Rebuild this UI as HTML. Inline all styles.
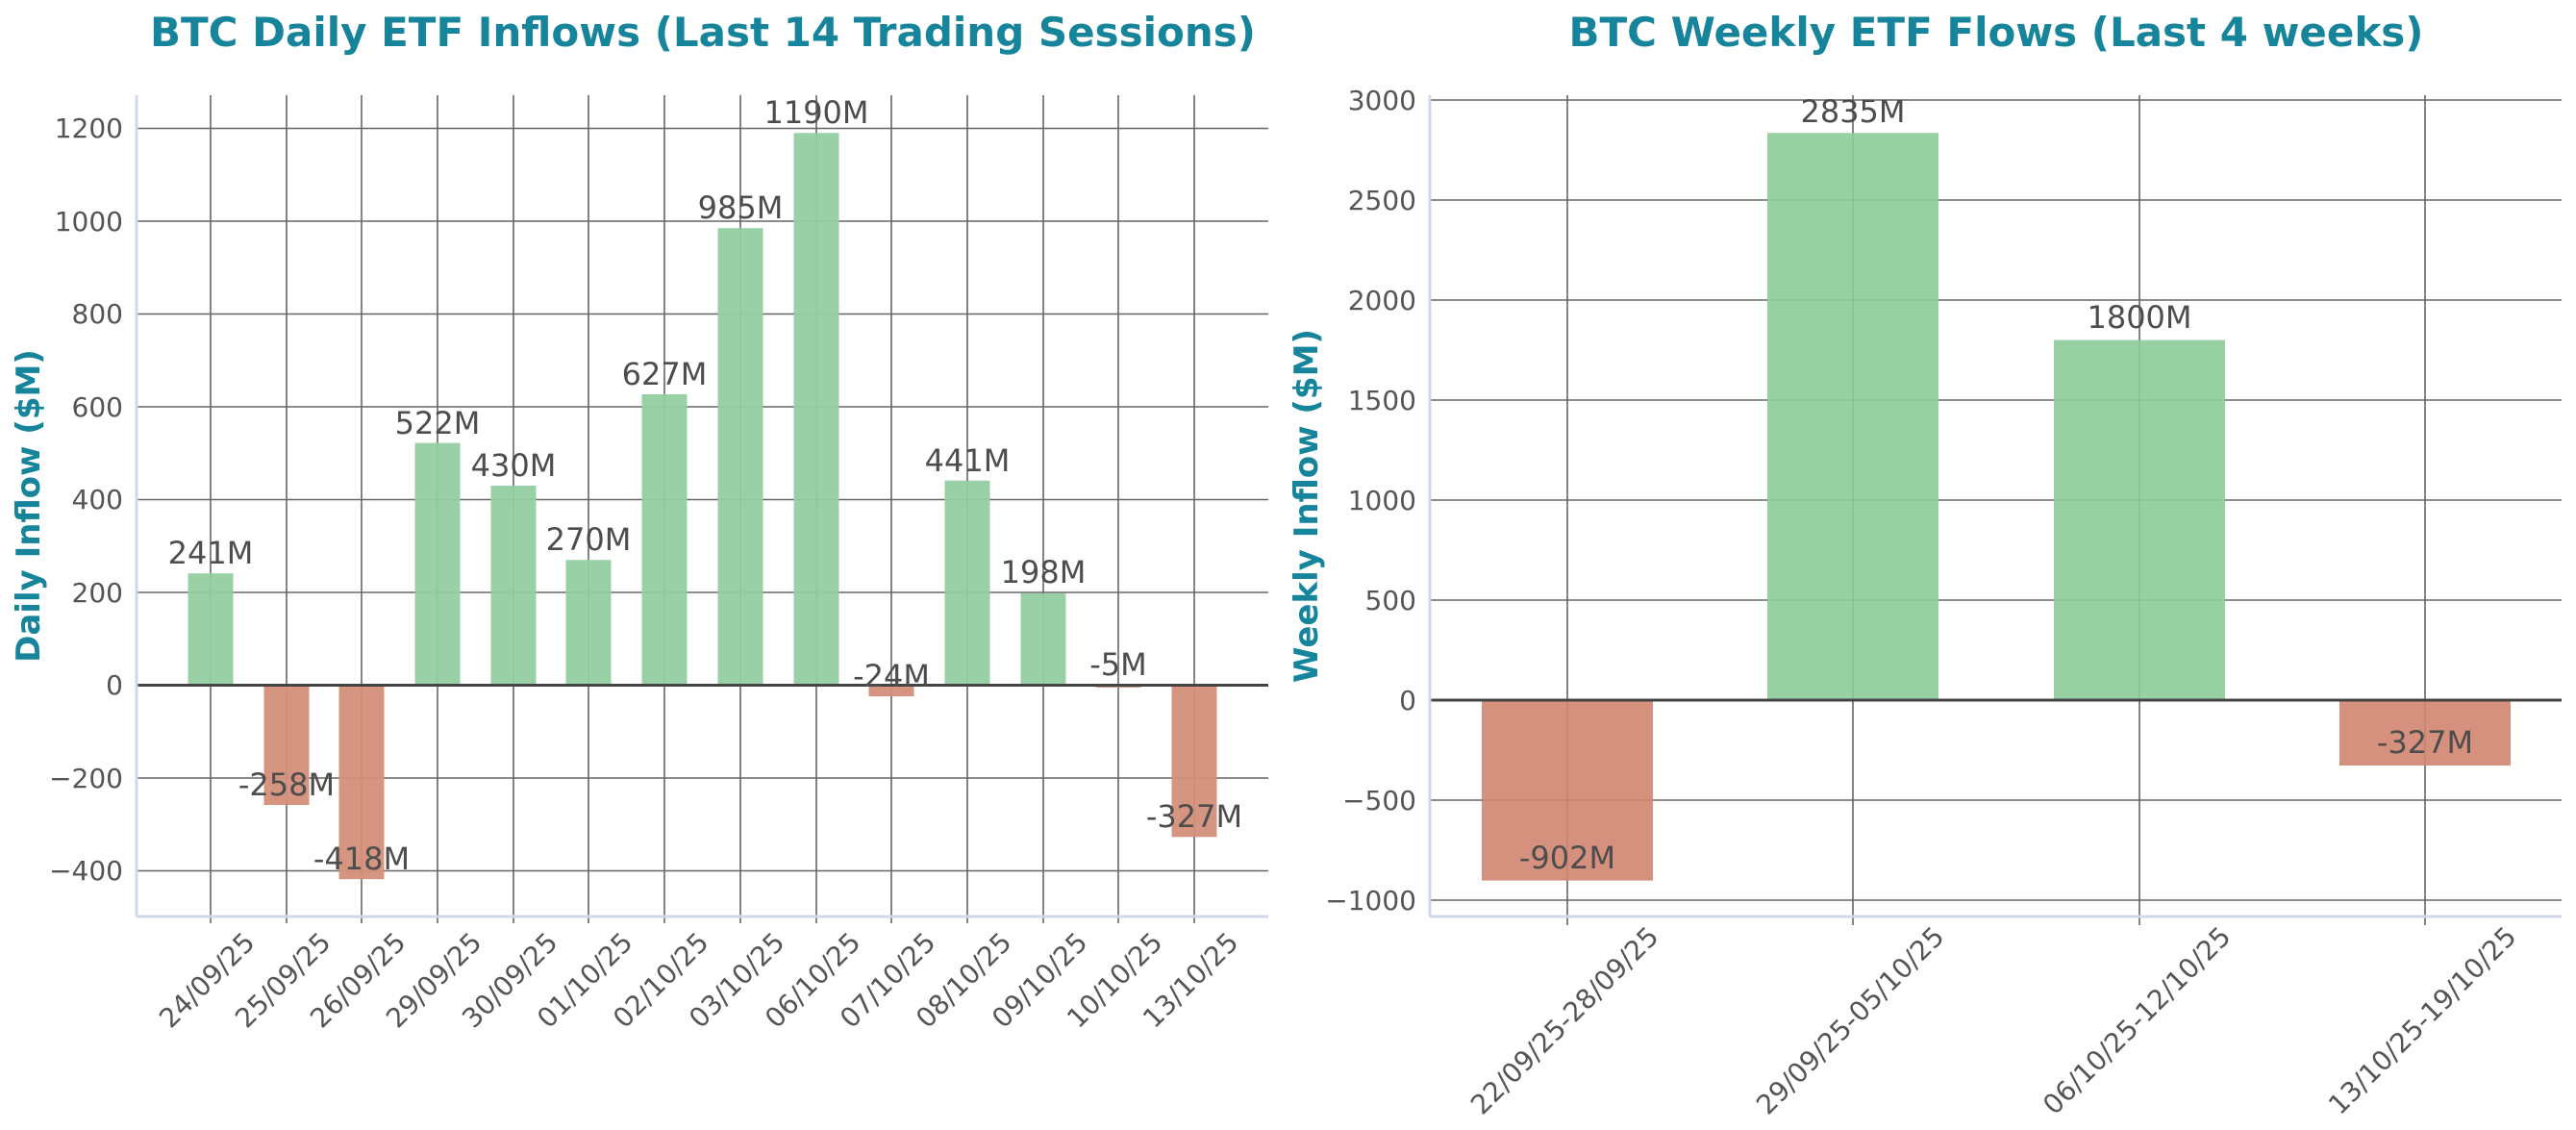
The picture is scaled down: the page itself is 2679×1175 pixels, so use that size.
<!DOCTYPE html>
<html><head><meta charset="utf-8"><style>html,body{margin:0;padding:0;background:#fff}svg{display:block}</style></head>
<body>
<svg width="2679" height="1175" viewBox="0 0 2679 1175" xmlns="http://www.w3.org/2000/svg" font-family="'DejaVu Sans','Liberation Sans',sans-serif">
<rect width="2679" height="1175" fill="#fff"/>
<!-- LEFT CHART -->
<text x="731" y="48" text-anchor="middle" font-size="42" font-weight="bold" fill="#16849a">BTC Daily ETF Inflows (Last 14 Trading Sessions)</text>
<text transform="translate(41,526) rotate(-90)" text-anchor="middle" font-size="34" font-weight="bold" fill="#16849a">Daily Inflow ($M)</text>
<g stroke="#666" stroke-width="1.6">
<line x1="142" x2="1319" y1="133.5" y2="133.5"/><line x1="142" x2="1319" y1="230" y2="230"/><line x1="142" x2="1319" y1="326.5" y2="326.5"/><line x1="142" x2="1319" y1="423" y2="423"/><line x1="142" x2="1319" y1="519.5" y2="519.5"/><line x1="142" x2="1319" y1="616" y2="616"/><line x1="142" x2="1319" y1="809" y2="809"/><line x1="142" x2="1319" y1="905.5" y2="905.5"/>
<line x1="219" x2="219" y1="99" y2="960"/><line x1="298" x2="298" y1="99" y2="960"/><line x1="376" x2="376" y1="99" y2="960"/><line x1="455" x2="455" y1="99" y2="960"/><line x1="534" x2="534" y1="99" y2="960"/><line x1="612" x2="612" y1="99" y2="960"/><line x1="691" x2="691" y1="99" y2="960"/><line x1="770" x2="770" y1="99" y2="960"/><line x1="849" x2="849" y1="99" y2="960"/><line x1="927" x2="927" y1="99" y2="960"/><line x1="1006" x2="1006" y1="99" y2="960"/><line x1="1085" x2="1085" y1="99" y2="960"/><line x1="1163" x2="1163" y1="99" y2="960"/><line x1="1242" x2="1242" y1="99" y2="960"/>
</g>
<g fill-opacity="0.95">
<rect x="195.5" y="596.2" width="47" height="116.3" fill="#93cea0"/>
<rect x="274.5" y="712.5" width="47" height="124.5" fill="#d48f79"/>
<rect x="352.5" y="712.5" width="47" height="201.7" fill="#d48f79"/>
<rect x="431.5" y="460.6" width="47" height="251.9" fill="#93cea0"/>
<rect x="510.5" y="505" width="47" height="207.5" fill="#93cea0"/>
<rect x="588.5" y="582.2" width="47" height="130.3" fill="#93cea0"/>
<rect x="667.5" y="410" width="47" height="302.5" fill="#93cea0"/>
<rect x="746.5" y="237.2" width="47" height="475.3" fill="#93cea0"/>
<rect x="825.5" y="138.3" width="47" height="574.2" fill="#93cea0"/>
<rect x="903.5" y="712.5" width="47" height="11.6" fill="#d48f79"/>
<rect x="982.5" y="499.7" width="47" height="212.8" fill="#93cea0"/>
<rect x="1061.5" y="617" width="47" height="95.5" fill="#93cea0"/>
<rect x="1139.5" y="712.5" width="47" height="2.4" fill="#d48f79"/>
<rect x="1218.5" y="712.5" width="47" height="157.8" fill="#d48f79"/>
</g>
<line x1="142" x2="1319" y1="712.5" y2="712.5" stroke="#444" stroke-width="3"/>
<line x1="142" x2="142" y1="99" y2="953" stroke="#d0d8e8" stroke-width="3"/>
<line x1="142" x2="1319" y1="953" y2="953" stroke="#d0d8e8" stroke-width="3"/>
<g font-size="32" fill="#4d4d4d" text-anchor="middle">
<text x="219" y="586">241M</text><text x="298" y="827">-258M</text><text x="376" y="904">-418M</text><text x="455" y="451">522M</text><text x="534" y="495">430M</text><text x="612" y="572">270M</text><text x="691" y="400">627M</text><text x="770" y="227">985M</text><text x="849" y="128">1190M</text><text x="927" y="714">-24M</text><text x="1006" y="490">441M</text><text x="1085" y="606">198M</text><text x="1163" y="702">-5M</text><text x="1242" y="860">-327M</text>
</g>
<g font-size="28" fill="#555" text-anchor="end">
<text x="128" y="143">1200</text><text x="128" y="240">1000</text><text x="128" y="336">800</text><text x="128" y="433">600</text><text x="128" y="529">400</text><text x="128" y="626">200</text><text x="128" y="722">0</text><text x="128" y="819">−200</text><text x="128" y="915">−400</text>
</g>
<g font-size="28" fill="#555" text-anchor="middle">
<text transform="translate(222,1026) rotate(-45)">24/09/25</text><text transform="translate(301,1026) rotate(-45)">25/09/25</text><text transform="translate(379,1026) rotate(-45)">26/09/25</text><text transform="translate(458,1026) rotate(-45)">29/09/25</text><text transform="translate(537,1026) rotate(-45)">30/09/25</text><text transform="translate(615,1026) rotate(-45)">01/10/25</text><text transform="translate(694,1026) rotate(-45)">02/10/25</text><text transform="translate(773,1026) rotate(-45)">03/10/25</text><text transform="translate(852,1026) rotate(-45)">06/10/25</text><text transform="translate(930,1026) rotate(-45)">07/10/25</text><text transform="translate(1009,1026) rotate(-45)">08/10/25</text><text transform="translate(1088,1026) rotate(-45)">09/10/25</text><text transform="translate(1166,1026) rotate(-45)">10/10/25</text><text transform="translate(1245,1026) rotate(-45)">13/10/25</text>
</g>
<!-- RIGHT CHART -->
<text x="2076" y="48" text-anchor="middle" font-size="42" font-weight="bold" fill="#16849a">BTC Weekly ETF Flows (Last 4 weeks)</text>
<text transform="translate(1370,526) rotate(-90)" text-anchor="middle" font-size="34" font-weight="bold" fill="#16849a">Weekly Inflow ($M)</text>
<g stroke="#666" stroke-width="1.6">
<line x1="1487" x2="2664" y1="104" y2="104"/><line x1="1487" x2="2664" y1="208" y2="208"/><line x1="1487" x2="2664" y1="312" y2="312"/><line x1="1487" x2="2664" y1="416" y2="416"/><line x1="1487" x2="2664" y1="520" y2="520"/><line x1="1487" x2="2664" y1="624" y2="624"/><line x1="1487" x2="2664" y1="832" y2="832"/><line x1="1487" x2="2664" y1="936" y2="936"/>
<line x1="1630" x2="1630" y1="99" y2="962"/><line x1="1927" x2="1927" y1="99" y2="962"/><line x1="2225" x2="2225" y1="99" y2="962"/><line x1="2522" x2="2522" y1="99" y2="962"/>
</g>
<g fill-opacity="0.9">
<rect x="1541" y="728" width="178" height="187.6" fill="#d08570"/>
<rect x="1838" y="138.3" width="178" height="589.7" fill="#8ccb99"/>
<rect x="2136" y="353.6" width="178" height="374.4" fill="#8ccb99"/>
<rect x="2433" y="728" width="178" height="68" fill="#d08570"/>
</g>
<line x1="1487" x2="2664" y1="728" y2="728" stroke="#444" stroke-width="3"/>
<line x1="1487" x2="1487" y1="99" y2="953" stroke="#d0d8e8" stroke-width="3"/>
<line x1="1487" x2="2664" y1="953" y2="953" stroke="#d0d8e8" stroke-width="3"/>
<g font-size="32" fill="#4d4d4d" text-anchor="middle">
<text x="1630" y="903">-902M</text><text x="1927" y="127">2835M</text><text x="2225" y="341">1800M</text><text x="2522" y="783">-327M</text>
</g>
<g font-size="28" fill="#555" text-anchor="end">
<text x="1473" y="114">3000</text><text x="1473" y="218">2500</text><text x="1473" y="322">2000</text><text x="1473" y="426">1500</text><text x="1473" y="530">1000</text><text x="1473" y="634">500</text><text x="1473" y="738">0</text><text x="1473" y="842">−500</text><text x="1473" y="946">−1000</text>
</g>
<g font-size="28" fill="#555" text-anchor="middle">
<text transform="translate(1634,1068) rotate(-45)">22/09/25-28/09/25</text><text transform="translate(1931,1068) rotate(-45)">29/09/25-05/10/25</text><text transform="translate(2229,1068) rotate(-45)">06/10/25-12/10/25</text><text transform="translate(2526,1068) rotate(-45)">13/10/25-19/10/25</text>
</g>
</svg>
</body></html>
